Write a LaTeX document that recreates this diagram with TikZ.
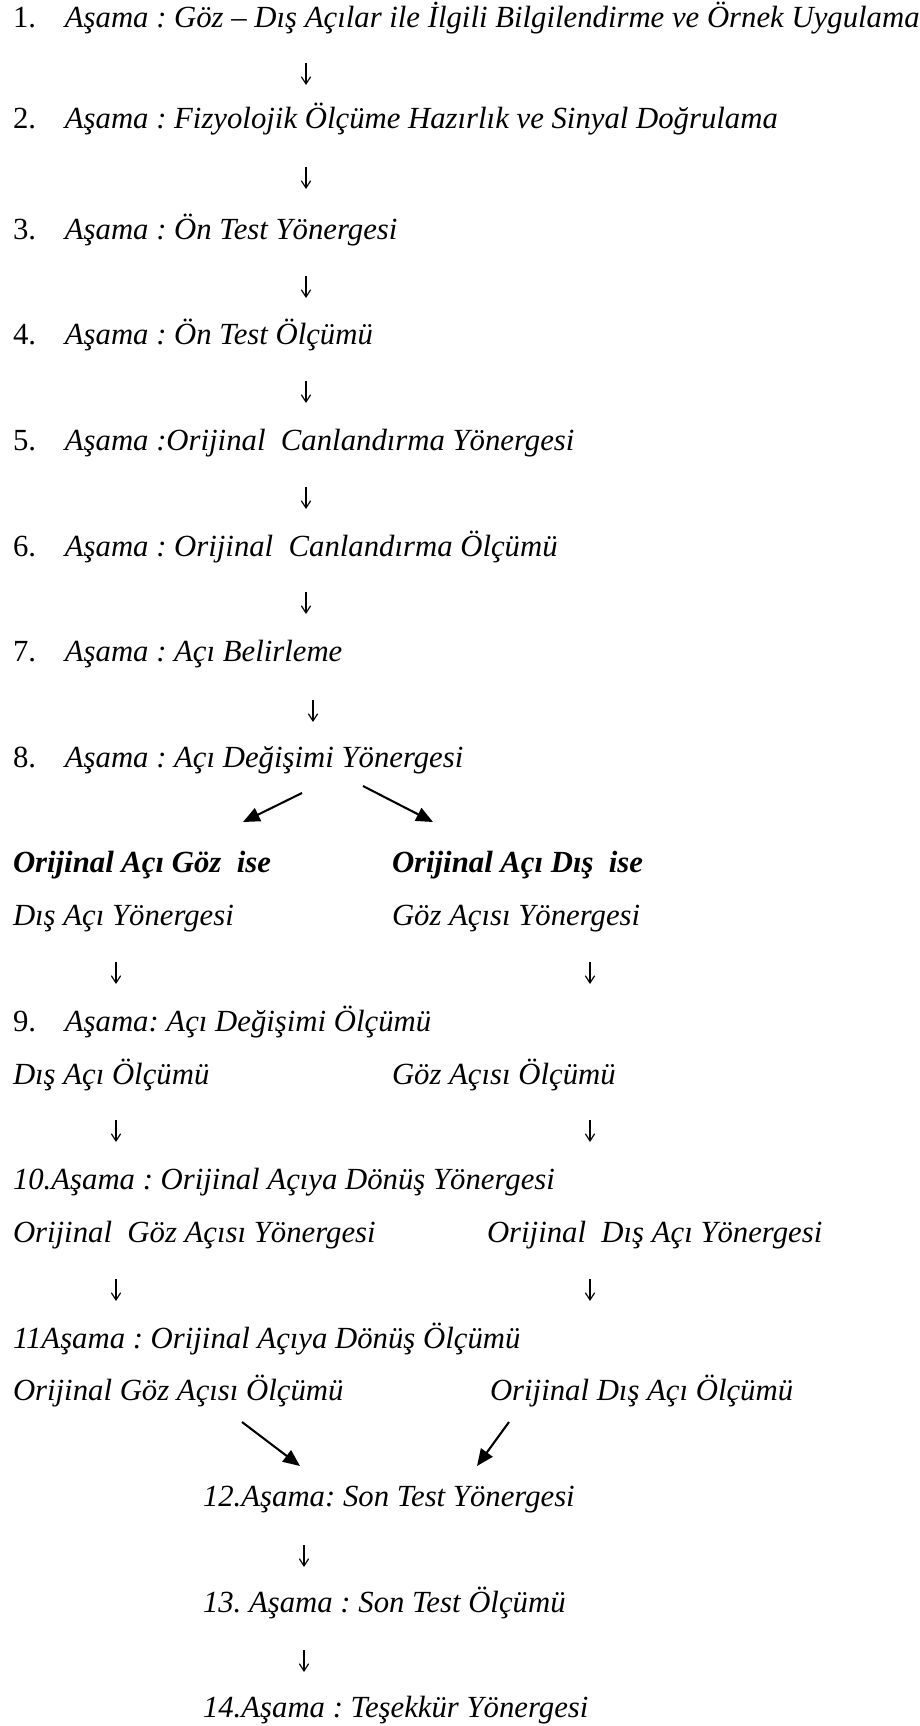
\documentclass[tikz,border=0pt]{standalone}
\usepackage{fontspec}
\setmainfont{Liberation Serif}
\usetikzlibrary{arrows.meta}
\frenchspacing
\begin{document}
\begin{tikzpicture}[x=0.3871pt,y=-0.3871pt,
  txt/.style={anchor=base west,inner sep=0pt,outer sep=0pt,font=\fontsize{11.9}{14}\selectfont\frenchspacing\itshape},
  btxt/.style={anchor=base west,inner sep=0pt,outer sep=0pt,font=\fontsize{11.9}{14}\selectfont\frenchspacing\bfseries\itshape},
  vdown/.style={line width=0.45pt,-{Straight Barb[length=2.8pt,width=3.6pt]}},
  diag/.style={line width=0.8pt,-{Triangle[length=6.5pt,width=5.5pt]}}]
\useasboundingbox (0,0) rectangle (919,1726);
\newcommand{\num}[1]{\makebox[20.1pt][l]{\upshape #1}}
% main stages
\node[txt] (s1) at (13,27) {\num{1.}Aşama : Göz – Dış Açılar ile İlgili Bilgilendirme ve Örnek Uygulama};
\node[txt] (s2) at (13,128) {\num{2.}Aşama : Fizyolojik Ölçüme Hazırlık ve Sinyal Doğrulama};
\node[txt] (s3) at (13,239.2) {\num{3.}Aşama : Ön Test Yönergesi};
\node[txt] (s4) at (13,344.8) {\num{4.}Aşama : Ön Test Ölçümü};
\node[txt] (s5) at (13,450.4) {\num{5.}Aşama :Orijinal~ Canlandırma Yönergesi};
\node[txt] (s6) at (13,556) {\num{6.}Aşama : Orijinal~ Canlandırma Ölçümü};
\node[txt] (s7) at (13,661.6) {\num{7.}Aşama : Açı Belirleme};
\node[txt] (s8) at (13,767.2) {\num{8.}Aşama : Açı Değişimi Yönergesi};
% branches
\node[btxt] (bl) at (13,872.8) {Orijinal Açı Göz~ ise};
\node[btxt] (br) at (392,872.8) {Orijinal Açı Dış~ ise};
\node[txt] (yl) at (13,925.6) {Dış Açı Yönergesi};
\node[txt] (yr) at (392,925.6) {Göz Açısı Yönergesi};
\node[txt] (s9) at (13,1031.2) {\num{9.}Aşama: Açı Değişimi Ölçümü};
\node[txt] (ol) at (13,1084) {Dış Açı Ölçümü};
\node[txt] (or) at (392,1084) {Göz Açısı Ölçümü};
\node[txt] (s10) at (13,1189.6) {10.Aşama : Orijinal Açıya Dönüş Yönergesi};
\node[txt] (gl) at (13,1242.4) {Orijinal~ Göz Açısı Yönergesi};
\node[txt] (gr) at (487,1242.4) {Orijinal~ Dış Açı Yönergesi};
\node[txt] (s11) at (13,1348) {11Aşama : Orijinal Açıya Dönüş Ölçümü};
\node[txt] (ml) at (13,1400.8) {Orijinal Göz Açısı Ölçümü};
\node[txt] (mr) at (490,1400.8) {Orijinal Dış Açı Ölçümü};
\node[txt] (s12) at (203,1506.4) {12.Aşama: Son Test Yönergesi};
\node[txt] (s13) at (203,1612) {13. Aşama : Son Test Ölçümü};
\node[txt] (s14) at (203,1717.6) {14.Aşama : Teşekkür Yönergesi};
% vertical arrows
\coordinate (a1s) at (306,63);     \coordinate (a1e) at (306,85);
\coordinate (a2s) at (306,167);    \coordinate (a2e) at (306,189);
\coordinate (a3s) at (306,276);    \coordinate (a3e) at (306,298);
\coordinate (a4s) at (306,381);    \coordinate (a4e) at (306,403);
\coordinate (a5s) at (306,487);    \coordinate (a5e) at (306,509);
\coordinate (a6s) at (306,592);    \coordinate (a6e) at (306,614);
\coordinate (a7s) at (313,700);    \coordinate (a7e) at (313,722);
\foreach \i in {1,...,7} {\draw[vdown] (a\i s) -- (a\i e);}
% diagonal split
\coordinate (d1s) at (302,793);  \coordinate (d1e) at (243,822);
\coordinate (d2s) at (363,786);  \coordinate (d2e) at (433,822);
\draw[diag] (d1s) -- (d1e);
\draw[diag] (d2s) -- (d2e);
% column arrows
\coordinate (l1s) at (116,962);  \coordinate (l1e) at (116,984);
\coordinate (r1s) at (590,962);  \coordinate (r1e) at (590,984);
\coordinate (l2s) at (116,1120); \coordinate (l2e) at (116,1142);
\coordinate (r2s) at (590,1120); \coordinate (r2e) at (590,1142);
\coordinate (l3s) at (116,1279); \coordinate (l3e) at (116,1301);
\coordinate (r3s) at (590,1279); \coordinate (r3e) at (590,1301);
\foreach \i in {1,2,3} {\draw[vdown] (l\i s) -- (l\i e); \draw[vdown] (r\i s) -- (r\i e);}
% diagonal merge
\coordinate (m1s) at (242,1422); \coordinate (m1e) at (300,1466);
\coordinate (m2s) at (509,1422); \coordinate (m2e) at (477,1466);
\draw[diag] (m1s) -- (m1e);
\draw[diag] (m2s) -- (m2e);
% final arrows
\coordinate (f1s) at (304,1545); \coordinate (f1e) at (304,1567);
\coordinate (f2s) at (304,1650); \coordinate (f2e) at (304,1672);
\draw[vdown] (f1s) -- (f1e);
\draw[vdown] (f2s) -- (f2e);
\end{tikzpicture}
\end{document}
